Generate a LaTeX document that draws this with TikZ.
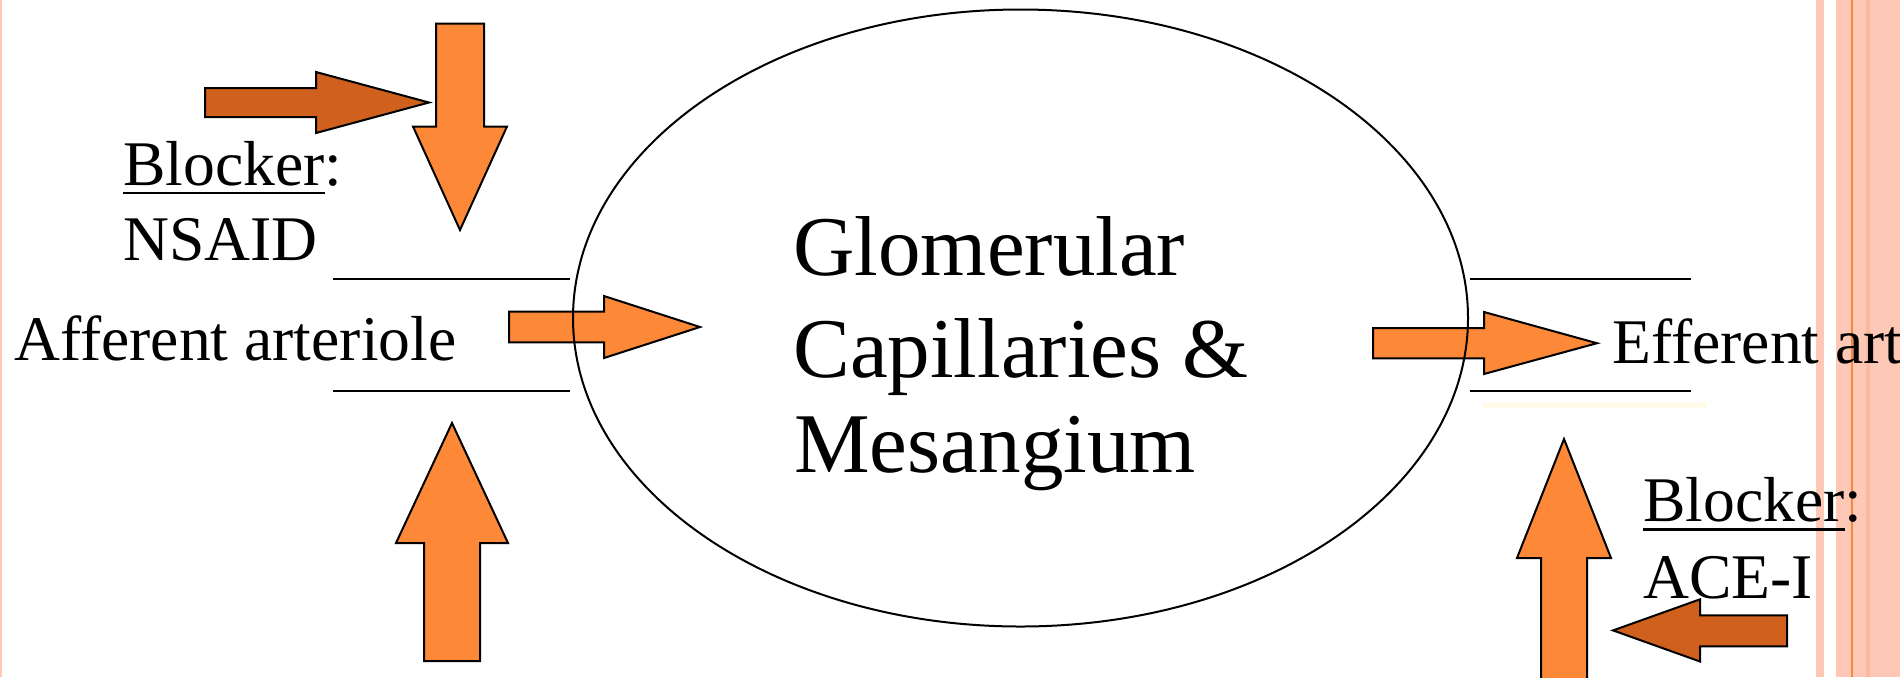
\documentclass[tikz,border=0pt]{standalone}
\usepackage{fontspec}
\setmainfont{Liberation Serif}
\usetikzlibrary{shapes.geometric}

\definecolor{arrowlight}{RGB}{253,137,56}
\definecolor{arrowdark}{RGB}{208,96,30}
\definecolor{marginpink}{RGB}{253,200,182}
\definecolor{margindeep}{RGB}{251,186,158}
\definecolor{marginline}{RGB}{248,135,60}
\definecolor{paleglow}{RGB}{255,251,232}

\newcommand{\ulword}[1]{\setbox0\hbox{#1}\rlap{\rule[-4.7pt]{\wd0}{1.4pt}}\box0}

\begin{document}
\begin{tikzpicture}[x=0.5pt, y=-0.5pt,
      sidetext/.style={anchor=base west, inner sep=0pt, font=\fontsize{31.8}{38}\selectfont},
      maintext/.style={anchor=base west, inner sep=0pt, font=\fontsize{42.5}{49}\selectfont},
      lightarrow/.style={draw=black, line width=1pt, fill=arrowlight},
      darkarrow/.style={lightarrow, fill=arrowdark},
      vessel/.style={line width=1pt},
      glomerulus/.style={ellipse, draw, line width=1pt, inner sep=0pt,
        minimum width=447.5pt, minimum height=308.5pt}
    ]
    \useasboundingbox (0,0) rectangle (1900,677);
    \clip (0,0) rectangle (1900,677);

    % slide margin stripes
    \fill[marginpink] (0,0) rectangle (2,677);
    \fill[marginpink] (1816,0) rectangle (1824,677);
    \fill[marginpink] (1836,0) rectangle (1900,677);
    \fill[margindeep] (1866,0) rectangle (1870,677);
    \fill[marginline] (1851,0) rectangle (1853,677);

    % arteriole walls
    \foreach \y in {278.5,390.8} {
      \draw[vessel] (333,\y) -- (570,\y);
      \draw[vessel] (1469.5,\y) -- (1690.5,\y);
    }
    \draw[line width=3pt, paleglow] (1483,405) -- (1707,405);

    % block arrows
    \draw[darkarrow] (205,88) -- (316,88) -- (316,72) -- (429,102.5) -- (316,133) -- (316,117) -- (205,117) -- cycle;
    \draw[lightarrow] (436,23.5) -- (484,23.5) -- (484,126.5) -- (507,126.5) -- (460,230) -- (413,126.5) -- (436,126.5) -- cycle;
    \draw[lightarrow] (509,311.7) -- (604,311.7) -- (604,296) -- (700,327) -- (604,358) -- (604,342.3) -- (509,342.3) -- cycle;
    \draw[lightarrow] (452,423) -- (508,543) -- (480,543) -- (480,661) -- (424,661) -- (424,543) -- (396,543) -- cycle;
    \draw[lightarrow] (1373,328) -- (1484,328) -- (1484,312) -- (1597,343.2) -- (1484,374) -- (1484,358.4) -- (1373,358.4) -- cycle;
    \draw[lightarrow] (1564,439) -- (1611,558) -- (1587,558) -- (1587,700) -- (1541,700) -- (1541,558) -- (1517,558) -- cycle;
    \draw[darkarrow] (1613,630.4) -- (1700,599.3) -- (1700,615.3) -- (1787,615.3) -- (1787,646.4) -- (1700,646.4) -- (1700,661.5) -- cycle;

    % glomerulus
    \node[glomerulus] (glom) at (1020.5,318) {};
    \node[maintext] (glomA) at (793,275) {Glomerular};
    \node[maintext] (glomB) at (793,377) {Capillaries \&};
    \node[maintext] (glomC) at (794,472) {Mesangium};

    % labels
    \node[sidetext] (blockerL) at (123,185) {\ulword{Blocker}:};
    \node[sidetext] (nsaid) at (123,260) {NSAID};
    \node[sidetext] (afferent) at (14,360.5) {Afferent arteriole};
    \node[sidetext] (efferent) at (1612,363.5) {Efferent art};
    \node[sidetext] (blockerR) at (1643,521.5) {\ulword{Blocker}:};
    \node[sidetext] (acei) at (1643,598.3) {ACE-I};
  \end{tikzpicture}
\end{document}
